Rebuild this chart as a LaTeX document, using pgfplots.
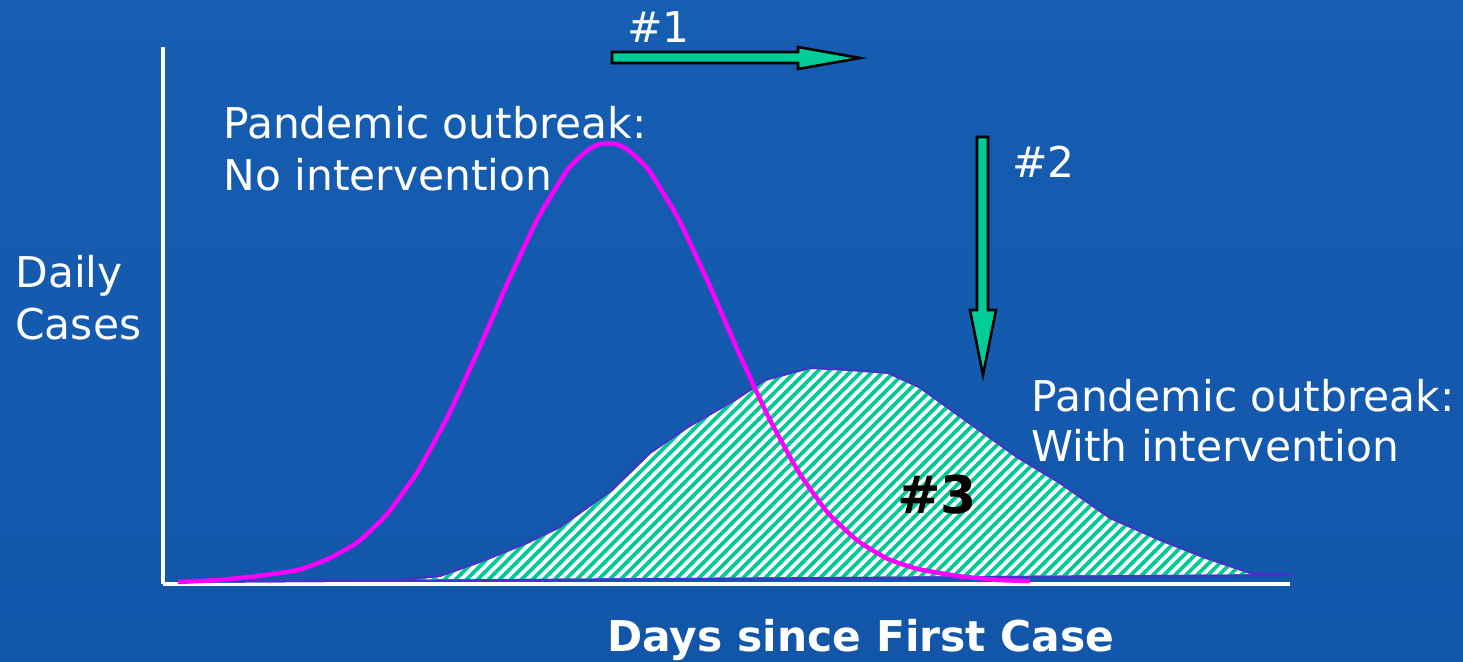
\documentclass[border=0pt]{standalone}
\usepackage{pgfplots}
\pgfplotsset{compat=1.18}
\usepackage{fontspec}
\setmainfont{DejaVu Sans}
\usetikzlibrary{patterns}
\pgfdeclarepatternformonly{myhatch}{\pgfqpoint{-1pt}{-1pt}}{\pgfqpoint{6.5pt}{6.5pt}}{\pgfqpoint{5.5pt}{5.5pt}}{%
  \pgfsetlinewidth{1.8pt}%
  \pgfpathmoveto{\pgfqpoint{-1pt}{-1pt}}%
  \pgfpathlineto{\pgfqpoint{6.5pt}{6.5pt}}%
  \pgfusepath{stroke}%
}
\definecolor{bgtop}{RGB}{22,94,178}
\definecolor{bgmid}{RGB}{26,104,190}
\definecolor{bgbot}{RGB}{18,86,170}
\definecolor{hatch}{RGB}{0,200,150}
\definecolor{outl}{RGB}{70,50,200}
\definecolor{arrowgreen}{RGB}{0,204,153}
\definecolor{mag}{RGB}{255,0,255}
\begin{document}
\begin{tikzpicture}
\shade[top color=bgtop, middle color=bgmid, bottom color=bgbot] (-81.5pt,-38.5pt) rectangle (650pt,292pt);
\begin{axis}[at={(0pt,0pt)}, anchor=south west, scale only axis,
  width=563.5pt, height=268.5pt,
  xmin=0, xmax=1127, ymin=0, ymax=537,
  axis x line*=bottom, axis y line*=left,
  axis line style={white, line width=1.6pt, -},
  ticks=none, clip=false]
% intervention curve (hatched area)
\addplot[draw=outl, line width=0.9pt, fill=white,
  postaction={pattern=myhatch, pattern color=hatch}]
  coordinates {
  (17,2) (237,4) (277,8) (314,21) (327,26) (364,41) (397,57) (449,94)
  (487,131) (525,157) (572,184) (602,204) (647,216) (687,214) (725,211)
  (756,197) (802,164) (840,137) (854,127) (897,101) (947,66) (997,44)
  (1040,27) (1087,11) (1130,9)
  } -- cycle;
% no intervention curve
\addplot[mag, line width=2.2pt, smooth, tension=0.3] coordinates {
  (15,2) (55,4) (95,8) (135,14) (165,25) (195,42) (225,71) (255,113)
  (285,168) (315,233) (345,302) (375,366) (405,415) (425,434) (437,440)
  (453,440) (465,434) (485,415) (515,366) (545,302) (575,233) (605,168)
  (635,113) (665,71) (695,43) (725,25) (755,15) (795,8) (835,4) (867,3)
  };
% arrows
\filldraw[fill=arrowgreen, draw=black, line width=1.3pt]
  (axis cs:449,532) -- (axis cs:635,532) -- (axis cs:635,537) -- (axis cs:697,526)
  -- (axis cs:635,515) -- (axis cs:635,521) -- (axis cs:449,521) -- cycle;
\filldraw[fill=arrowgreen, draw=black, line width=1.3pt]
  (axis cs:814,447) -- (axis cs:825,447) -- (axis cs:825,274) -- (axis cs:833,274)
  -- (axis cs:820,209) -- (axis cs:807,274) -- (axis cs:814,274) -- cycle;
% texts
\begin{scope}[every node/.style={inner sep=0pt, anchor=base west, text=white, font=\fontsize{21.2}{25}\selectfont}]
\node at (axis cs:464,542) {\#1};
\node at (axis cs:849,407) {\#2};
\node at (axis cs:60,446) {Pandemic outbreak:};
\node at (axis cs:60,394) {No intervention};
\node at (axis cs:-148,297) {Daily};
\node at (axis cs:-148,245) {Cases};
\node at (axis cs:868,173) {Pandemic outbreak:};
\node at (axis cs:868,123) {With intervention};
\node[text=black, font=\fontsize{26}{30}\selectfont\bfseries] at (axis cs:734,71) {\#3};
\node[font=\fontsize{21.2}{25}\selectfont\bfseries] at (axis cs:444,-67) {Days since First Case};
\end{scope}
\end{axis}
\end{tikzpicture}
\end{document}
